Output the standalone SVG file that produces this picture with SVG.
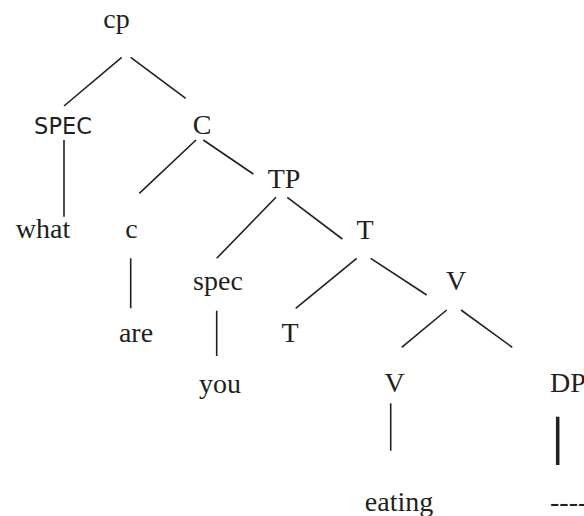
<svg xmlns="http://www.w3.org/2000/svg" width="584" height="516" viewBox="0 0 584 516">
<style>
text{font-family:"Liberation Serif","Times New Roman",serif;font-size:28px;fill:#231f20;text-anchor:middle}
.sans{font-family:"DejaVu Sans","Open Sans",sans-serif;font-size:22.5px}
.edge{stroke:#231f20;stroke-width:1.6;fill:none}
.thick{stroke:#231f20;stroke-width:3.5;fill:none}
</style>
<rect width="584" height="516" fill="#fff"/>
<g id="connectors">
<line class="edge" x1="121.7" y1="57.3" x2="64" y2="106"/>
<line class="edge" x1="130.7" y1="57.3" x2="185.7" y2="98.3"/>
<line class="edge" x1="64" y1="140" x2="64" y2="216.7"/>
<line class="edge" x1="196" y1="140" x2="139.3" y2="193.3"/>
<line class="edge" x1="203.3" y1="140" x2="253.3" y2="174"/>
<line class="edge" x1="276" y1="197.3" x2="216.7" y2="258.3"/>
<line class="edge" x1="287.3" y1="197.3" x2="342.3" y2="239"/>
<line class="edge" x1="130.7" y1="258.3" x2="130.7" y2="308.3"/>
<line class="edge" x1="216.7" y1="310.7" x2="216.7" y2="356"/>
<line class="edge" x1="356.7" y1="258.3" x2="295.7" y2="308.3"/>
<line class="edge" x1="370.7" y1="258.3" x2="426.7" y2="295"/>
<line class="edge" x1="446.7" y1="310" x2="401.7" y2="347.3"/>
<line class="edge" x1="461" y1="310" x2="512.3" y2="347.3"/>
<line class="edge" x1="390.7" y1="403.3" x2="390.7" y2="450.7"/>
<line class="thick" x1="557.7" y1="416.7" x2="557.7" y2="465"/>
</g>
<g id="n-cp"><text x="116.5" y="28">cp</text></g>
<g id="n-spec-upper"><text class="sans" x="63" y="133.5">SPEC</text></g>
<g id="n-C"><text x="202" y="134">C</text></g>
<g id="n-TP"><text x="284" y="188">TP</text></g>
<g id="n-what"><text x="43" y="238">what</text></g>
<g id="n-c"><text x="131.5" y="238">c</text></g>
<g id="n-T1"><text x="365" y="239">T</text></g>
<g id="n-spec"><text x="218" y="290">spec</text></g>
<g id="n-V1"><text x="456" y="290">V</text></g>
<g id="n-are"><text x="136" y="341.5">are</text></g>
<g id="n-T2"><text x="290" y="341.5">T</text></g>
<g id="n-you"><text x="220" y="392.5">you</text></g>
<g id="n-V2"><text x="394.5" y="391.5">V</text></g>
<g id="n-DP"><text x="550" y="391.5" style="text-anchor:start">DP</text></g>
<g id="n-eating"><text x="399" y="511">eating</text></g>
<g id="n-dashes"><text x="550" y="511" style="text-anchor:start">----</text></g>
</svg>
